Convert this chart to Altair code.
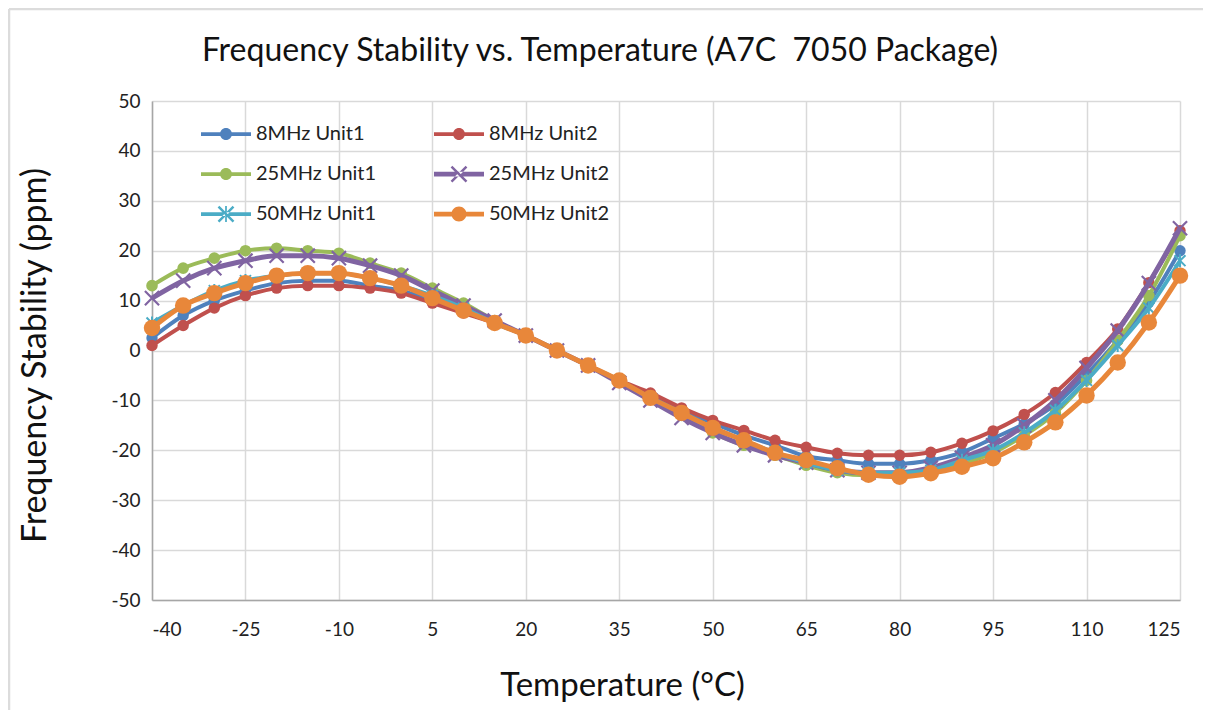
import altair as alt
import pandas as pd

temps = list(range(-40, 126, 5))

series_names = ["8MHz Unit1", "8MHz Unit2", "25MHz Unit1", "25MHz Unit2", "50MHz Unit1", "50MHz Unit2"]

s8_u1 = [2.5, 7, 10, 12, 13.5, 14, 14, 13, 12, 10, 8, 5.5, 3, 0, -3, -6, -9, -12, -14.5, -17, -19,
         -21.2, -22, -22.7, -22.7, -22, -20.4, -17.6, -14.7, -10.8, -4.8, 2, 9.7, 20]
s8_u2 = [1, 5, 8.5, 11, 12.5, 13, 13, 12.5, 11.5, 9.5, 7.5, 5.5, 3, 0, -3, -6, -8.5, -11.5, -14, -16, -18,
         -19.4, -20.6, -21, -21, -20.4, -18.6, -16.1, -12.8, -8.4, -2.4, 4.3, 13.6, 24]
s25_u1 = [13, 16.5, 18.5, 20, 20.5, 20, 19.5, 17.5, 15.5, 12.5, 9.5, 6, 3, 0, -3, -6, -9.5, -13, -16.5, -19, -21,
          -23, -24.5, -25, -25, -24.3, -22.8, -20.5, -17, -12.5, -6, 2, 11, 23]
s25_u2 = [10.5, 14, 16.5, 18, 19, 19, 18.5, 17, 15, 12, 9, 6, 3, 0, -3, -6.5, -10, -13.5, -16.5, -19, -21,
          -22.5, -24, -24.5, -24.5, -23.5, -21.5, -19, -15, -10, -3.5, 4, 13.5, 24.5]
s50_u1 = [5.5, 9, 12, 14, 15, 15.5, 15.5, 14.5, 13, 11, 8.5, 5.5, 3, 0, -3, -6, -9.5, -12.5, -15.5, -18, -20.5,
          -22.5, -24, -24.5, -24.5, -24, -22, -20, -16.5, -12, -6, 1, 8.5, 18]
s50_u2 = [4.5, 9, 11.5, 13.5, 15, 15.5, 15.5, 14.5, 13, 10.5, 8, 5.5, 3, 0, -3, -6, -9.5, -12.5, -15.5, -18, -20.5,
          -22, -23.6, -24.9, -25.3, -24.6, -23.3, -21.6, -18.4, -14.4, -9, -2.4, 5.6, 15]

series_values = [s8_u1, s8_u2, s25_u1, s25_u2, s50_u1, s50_u2]
colors = ["#4F81BD", "#C0504D", "#9BBB59", "#8064A2", "#4BACC6", "#E8873A"]

x_ticks = [-40, -25, -10, 5, 20, 35, 50, 65, 80, 95, 110, 125]
y_ticks = list(range(-50, 51, 10))

rows = []
for name, vals in zip(series_names, series_values):
    for t, v in zip(temps, vals):
        rows.append({"series": name, "temp": t, "ppm": v})
df = pd.DataFrame(rows)

FONT = "Lato"

X_PATH = "M-1,-1L1,1M-1,1L1,-1"
STAR_PATH = "M-1,-1L1,1M-1,1L1,-1M0,-1.2L0,1.2"

line_widths = [4, 4, 4, 5, 4, 5]
marker_specs = [
    dict(filled=True, shape="circle", size=130),
    dict(filled=True, shape="circle", size=130),
    dict(filled=True, shape="circle", size=135),
    dict(filled=False, shape=X_PATH, size=200, strokeWidth=2.2),
    dict(filled=False, shape=STAR_PATH, size=120, strokeWidth=2),
    dict(filled=True, shape="circle", size=270),
]

xscale = alt.Scale(domain=[-40, 125], nice=False, zero=False)
yscale = alt.Scale(domain=[-50, 50], nice=False)

xaxis = alt.Axis(values=x_ticks, title="Temperature (°C)", grid=True, gridColor="#d9d9d9", gridWidth=1.5,
                 domainColor="#a6a6a6", domainWidth=1.5, ticks=False, labelFont=FONT, labelFontSize=19,
                 labelColor="#222", labelPadding=20, labelExpr="'' + datum.value",
                 titleFont=FONT, titleFontSize=33, titleFontWeight="normal",
                 titleColor="#111", titleY=85, titleBaseline="middle", titleX=470)
yaxis = alt.Axis(values=y_ticks, title="Frequency Stability (ppm)", grid=True, gridColor="#d9d9d9", gridWidth=1.5,
                 domainColor="#a6a6a6", domainWidth=1.5, ticks=False, labelFont=FONT, labelFontSize=19,
                 labelColor="#222", labelPadding=12, labelExpr="'' + datum.value",
                 titleFont=FONT, titleFontSize=34, titleFontWeight="normal",
                 titleColor="#111", titleX=-117, titleY=254, titleAngle=270, titleBaseline="middle",
                 titleAlign="center")

enc_x = alt.X("temp:Q", scale=xscale, axis=xaxis)
enc_y = alt.Y("ppm:Q", scale=yscale, axis=yaxis)

# light frame lines (top and left) around the whole chart area (decoration)
one = pd.DataFrame({"k": [0]})
frame_top = alt.Chart(one).mark_rule(stroke="#dcdcdc", strokeWidth=2.5).encode(
    x=alt.value(-143), x2=alt.value(1070), y=alt.value(-92))
frame_left = alt.Chart(one).mark_rule(stroke="#dcdcdc", strokeWidth=2.5).encode(
    x=alt.value(-143), y=alt.value(-92), y2=alt.value(700))

layers = [frame_top, frame_left]
for i, name in enumerate(series_names):
    base = alt.Chart(df).transform_filter(alt.datum.series == name)
    line = base.mark_line(interpolate="monotone", strokeWidth=line_widths[i], color=colors[i]).encode(
        x=enc_x, y=enc_y)
    spec = marker_specs[i]
    if spec["filled"]:
        pts = base.mark_point(filled=True, shape=spec["shape"], size=spec["size"], color=colors[i],
                              opacity=1).encode(x=enc_x, y=enc_y)
    else:
        pts = base.mark_point(filled=False, shape=spec["shape"], size=spec["size"], color=colors[i],
                              opacity=1, strokeWidth=spec["strokeWidth"]).encode(x=enc_x, y=enc_y)
    layers += [line, pts]

# legend symbol paths: line segment + marker
LINE = "M-1,-0.075L1,-0.075L1,0.075L-1,0.075Z"
LINE_T = "M-1,-0.095L1,-0.095L1,0.095L-1,0.095Z"
def circ(r):
    return f"M{r},0A{r},{r} 0 1,1 {-r},0A{r},{r} 0 1,1 {r},0Z"
XSYM = ("M-0.265,-0.335L0.335,0.265L0.265,0.335L-0.335,-0.265Z"
        "M-0.265,0.335L0.335,-0.265L0.265,-0.335L-0.335,0.265Z")
VBAR = "M-0.035,-0.32L0.035,-0.32L0.035,0.32L-0.035,0.32Z"
legend_shapes = [LINE + circ(0.24), LINE + circ(0.24), LINE + circ(0.24), LINE_T + XSYM,
                 LINE + XSYM + VBAR, LINE_T + circ(0.3)]

leg = alt.Legend(title=None, orient="none", legendX=49, legendY=8, columns=2, direction="horizontal",
                 symbolSize=2500, labelFont=FONT, labelFontSize=20, labelColor="#222",
                 labelOffset=5, columnPadding=57, rowPadding=5, labelLimit=300,
                 symbolStrokeWidth=0)

legend_layer = alt.Chart(df).transform_filter("false").mark_point(filled=True, opacity=1).encode(
    x=enc_x, y=enc_y,
    color=alt.Color("series:N", scale=alt.Scale(domain=series_names, range=colors), legend=leg),
    shape=alt.Shape("series:N", scale=alt.Scale(domain=series_names, range=legend_shapes), legend=leg),
)

chart = alt.layer(*layers, legend_layer).properties(
    width=1028, height=499,
    title=alt.TitleParams("Frequency Stability vs. Temperature (A7C\u00a0 7050 Package)", font=FONT,
                          fontSize=32, fontWeight="normal", color="#111", anchor="middle", frame="group",
                          dx=-66, offset=-60),
    padding={"left": 144, "top": 93, "right": 23, "bottom": 110},
    autosize=alt.AutoSizeParams(type="none"),
).configure_view(stroke=None)

chart.save("out.html", embed_options={"renderer": "svg", "actions": False})
